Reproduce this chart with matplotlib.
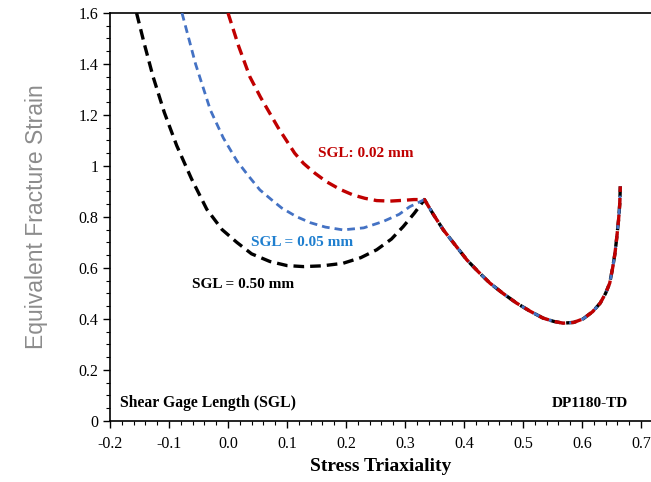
import numpy as np
import matplotlib
matplotlib.use("Agg")
import matplotlib.pyplot as plt
from matplotlib.ticker import MultipleLocator, FormatStrFormatter, FuncFormatter

# Shared branch (all three SGL curves coincide for triaxiality > 1/3)
common_x = [0.333, 0.348, 0.365, 0.385, 0.405, 0.425, 0.444, 0.466, 0.489, 0.512,
            0.534, 0.552, 0.568, 0.586, 0.602, 0.618, 0.631, 0.640, 0.647, 0.652,
            0.656, 0.659, 0.662, 0.664, 0.665]
common_y = [0.868, 0.810, 0.749, 0.690, 0.631, 0.583, 0.540, 0.500, 0.462, 0.430,
            0.403, 0.390, 0.383, 0.386, 0.400, 0.428, 0.462, 0.500, 0.540, 0.600,
            0.658, 0.720, 0.788, 0.850, 0.920]

# SGL = 0.50 mm
sgl050_x = [-0.155, -0.142, -0.127, -0.108, -0.087, -0.062, -0.036, -0.010, 0.015, 0.040,
            0.071, 0.100, 0.128, 0.160, 0.195, 0.225, 0.252, 0.277, 0.297, 0.316]
sgl050_y = [1.60, 1.48, 1.35, 1.21, 1.08, 0.95, 0.83, 0.75, 0.70, 0.655,
            0.625, 0.609, 0.605, 0.608, 0.618, 0.640, 0.671, 0.713, 0.762, 0.815]

# SGL = 0.05 mm
sgl005_x = [-0.078, -0.055, -0.030, -0.008, 0.015, 0.035, 0.054, 0.075, 0.091, 0.116,
            0.140, 0.165, 0.195, 0.230, 0.263, 0.290, 0.308]
sgl005_y = [1.60, 1.40, 1.22, 1.11, 1.02, 0.96, 0.906, 0.865, 0.835, 0.801,
            0.777, 0.760, 0.749, 0.757, 0.782, 0.810, 0.840]

# SGL = 0.02 mm
sgl002_x = [0.000, 0.018, 0.037, 0.055, 0.071, 0.085, 0.099, 0.113, 0.128, 0.147,
            0.167, 0.190, 0.212, 0.232, 0.252, 0.275, 0.297, 0.315]
sgl002_y = [1.60, 1.47, 1.35, 1.27, 1.206, 1.15, 1.10, 1.05, 1.01, 0.972,
            0.938, 0.908, 0.886, 0.873, 0.864, 0.862, 0.865, 0.868]

plt.rcParams['font.family'] = ['Liberation Serif', 'DejaVu Serif']

fig = plt.figure(figsize=(6.51, 4.82), dpi=100)
ax = fig.add_axes([0.169, 0.127, 0.831, 0.846])

ax.plot(sgl050_x + common_x, sgl050_y + common_y, color='black', lw=2.4,
        dashes=(3.2, 1.8), zorder=3)
ax.plot(sgl005_x + common_x, sgl005_y + common_y, color='#4472C4', lw=2.0,
        dashes=(2.8, 1.8), zorder=4)
ax.plot(sgl002_x + common_x, sgl002_y + common_y, color='#C00000', lw=2.4,
        dashes=(3.2, 1.8), zorder=5)

ax.set_xlim(-0.2, 0.717)
ax.set_ylim(0, 1.6)
ax.xaxis.set_major_locator(MultipleLocator(0.1))
ax.xaxis.set_minor_locator(MultipleLocator(0.02))
ax.yaxis.set_major_locator(MultipleLocator(0.2))
ax.yaxis.set_minor_locator(MultipleLocator(0.05))
ax.xaxis.set_major_formatter(FormatStrFormatter('%.1f'))
ax.yaxis.set_major_formatter(FuncFormatter(lambda v, p: '%g' % round(v, 2)))
ax.tick_params(which='major', direction='out', length=5, width=1, labelsize=11.5,
               colors='black')
ax.tick_params(which='minor', direction='out', length=3, width=0.8)
ax.tick_params(axis='x', pad=6)
ax.spines['right'].set_visible(False)
for s in ['left', 'bottom', 'top']:
    ax.spines[s].set_linewidth(1.2)

ax.set_xlabel('Stress Triaxiality', fontsize=14, fontweight='bold', labelpad=4)
ax.set_ylabel('Equivalent Fracture Strain', fontsize=16.5, color='#8c8c8c',
              family='Liberation Sans', labelpad=22)

ax.text(0.153, 1.05, 'SGL: 0.02 mm', color='#C00000', fontsize=11, fontweight='bold',
        va='center')
ax.text(0.039, 0.70, 'SGL = 0.05 mm', color='#1F7FCF', fontsize=11, fontweight='bold',
        va='center')
ax.text(-0.061, 0.533, 'SGL = 0.50 mm', color='black', fontsize=11, fontweight='bold',
        va='center')
ax.text(-0.183, 0.07, 'Shear Gage Length (SGL)', color='black', fontsize=11.3,
        fontweight='bold', va='center')
ax.text(0.678, 0.067, 'DP1180-TD', color='black', fontsize=11, fontweight='bold',
        va='center', ha='right')

fig.savefig('out.png', dpi=100)
